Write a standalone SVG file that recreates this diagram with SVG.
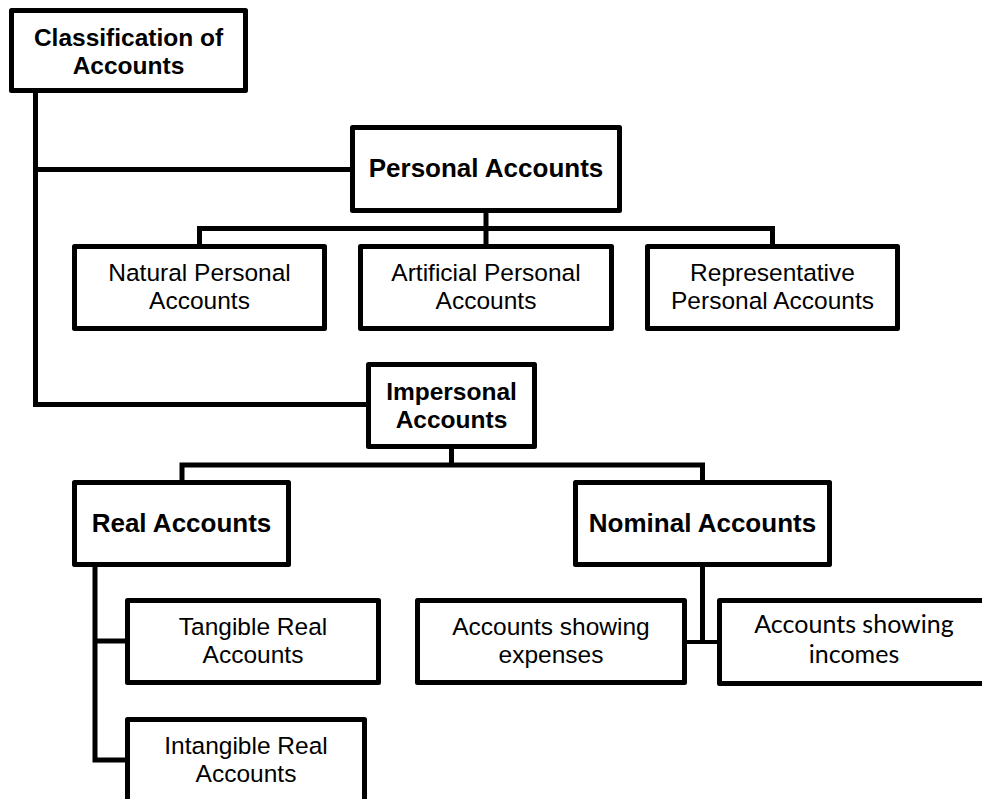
<svg xmlns="http://www.w3.org/2000/svg" width="982" height="799" viewBox="0 0 982 799">
<style>
  .box { fill: #ffffff; stroke: #000000; stroke-width: 5; stroke-linejoin: round; }
  .conn { fill: none; stroke: #000000; stroke-width: 5; stroke-linejoin: miter; stroke-linecap: butt; }
  .b1 { font-family: "Liberation Sans", Arial, sans-serif; font-weight: bold; font-size: 26px; fill: #000; text-anchor: middle; }
  .b { font-family: "Liberation Sans", Arial, sans-serif; font-weight: bold; font-size: 24.5px; fill: #000; text-anchor: middle; }
  .r { font-family: "Liberation Sans", Arial, sans-serif; font-size: 24.5px; fill: #000; text-anchor: middle; }
  .c { font-family: Lato, "Open Sans", sans-serif; font-size: 25px; fill: #000; text-anchor: middle; }
</style>
<rect width="982" height="799" fill="#ffffff"/>
<g id="connectors">
  <path class="conn" d="M35.5,92 V404.5 H368"/>
  <path class="conn" d="M35.5,169.5 H352"/>
  <path class="conn" d="M486,212 V228.5"/>
  <path class="conn" d="M199.5,246 V228.5 H772.5 V246"/>
  <path class="conn" d="M486,228.5 V246"/>
  <path class="conn" d="M451.5,448 V465"/>
  <path class="conn" d="M182,482 V465 H702.5 V482"/>
  <path class="conn" d="M95,566 V760 H127"/>
  <path class="conn" d="M95,641 H127"/>
  <path class="conn" d="M702.5,566 V642"/>
  <path class="conn" d="M686,642 H719" style="stroke-width:4"/>
</g>
<g id="root">
  <rect class="box" x="11.5" y="10.5" width="234" height="80"/>
  <text class="b" x="128.5" y="46">Classification of</text>
  <text class="b" x="128.5" y="73.5">Accounts</text>
</g>
<g id="personal">
  <rect class="box" x="352.5" y="127.5" width="267" height="83"/>
  <text class="b1" x="486" y="177">Personal Accounts</text>
</g>
<g id="natural">
  <rect class="box" x="74.5" y="246.5" width="250" height="82"/>
  <text class="r" x="199.5" y="281">Natural Personal</text>
  <text class="r" x="199.5" y="308.5">Accounts</text>
</g>
<g id="artificial">
  <rect class="box" x="360.5" y="246.5" width="251" height="82"/>
  <text class="r" x="486" y="281">Artificial Personal</text>
  <text class="r" x="486" y="308.5">Accounts</text>
</g>
<g id="representative">
  <rect class="box" x="647.5" y="246.5" width="250" height="82"/>
  <text class="r" x="772.5" y="281">Representative</text>
  <text class="r" x="772.5" y="308.5">Personal Accounts</text>
</g>
<g id="impersonal">
  <rect class="box" x="368.5" y="364.5" width="166" height="82"/>
  <text class="b" x="451.5" y="400">Impersonal</text>
  <text class="b" x="451.5" y="427.5">Accounts</text>
</g>
<g id="real">
  <rect class="box" x="74.5" y="482.5" width="214" height="82"/>
  <text class="b1" x="181.5" y="532">Real Accounts</text>
</g>
<g id="nominal">
  <rect class="box" x="575.5" y="482.5" width="254" height="82"/>
  <text class="b1" x="702.5" y="532">Nominal Accounts</text>
</g>
<g id="tangible">
  <rect class="box" x="127.5" y="600.5" width="251" height="82"/>
  <text class="r" x="253" y="635">Tangible Real</text>
  <text class="r" x="253" y="662.5">Accounts</text>
</g>
<g id="intangible">
  <rect class="box" x="127.5" y="719.5" width="237" height="95"/>
  <text class="r" x="246" y="754">Intangible Real</text>
  <text class="r" x="246" y="781.5">Accounts</text>
</g>
<g id="expenses">
  <rect class="box" x="417.5" y="600.5" width="267" height="82"/>
  <text class="r" x="551" y="635">Accounts showing</text>
  <text class="r" x="551" y="663">expenses</text>
</g>
<g id="incomes">
  <rect class="box" x="719.5" y="600.5" width="290" height="83"/>
  <text class="c" x="854" y="633">Accounts showing</text>
  <text class="c" x="854" y="663">incomes</text>
</g>
</svg>
